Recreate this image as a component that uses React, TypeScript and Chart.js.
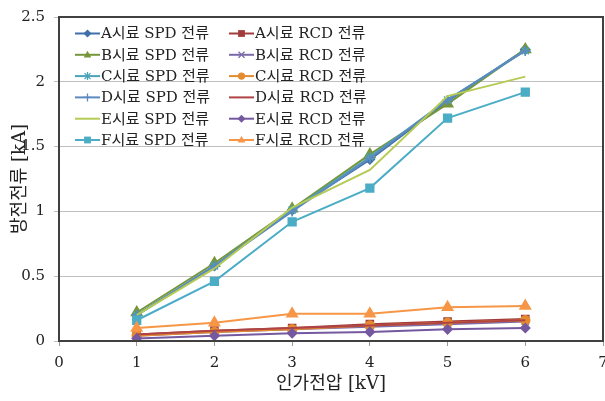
import React, { useEffect, useRef } from "react";
import { Chart, registerables } from "chart.js";

Chart.register(...registerables);

const voltages = [1, 2, 3, 4, 5, 6];
const xTicks = [0, 1, 2, 3, 4, 5, 6, 7];
const yTicks = [0, 0.5, 1, 1.5, 2, 2.5];
const xTitle = "인가전압 [kV]";
const yTitle = "방전전류 [kA]";

const seriesNames = [
  "A시료 SPD 전류", "A시료 RCD 전류",
  "B시료 SPD 전류", "B시료 RCD 전류",
  "C시료 SPD 전류", "C시료 RCD 전류",
  "D시료 SPD 전류", "D시료 RCD 전류",
  "E시료 SPD 전류", "E시료 RCD 전류",
  "F시료 SPD 전류", "F시료 RCD 전류",
];

const aSPD = [0.2, 0.58, 1.01, 1.4, 1.85, 2.25];
const aRCD = [0.05, 0.08, 0.1, 0.13, 0.15, 0.17];
const bSPD = [0.22, 0.6, 1.02, 1.44, 1.83, 2.25];
const bRCD = [0.04, 0.07, 0.09, 0.11, 0.13, 0.15];
const cSPD = [0.2, 0.58, 1.01, 1.42, 1.86, 2.24];
const cRCD = [0.04, 0.07, 0.09, 0.12, 0.14, 0.16];
const dSPD = [0.2, 0.58, 1.0, 1.41, 1.86, 2.24];
const dRCD = [0.05, 0.08, 0.1, 0.12, 0.14, 0.16];
const eSPD = [0.2, 0.56, 1.03, 1.32, 1.89, 2.04];
const eRCD = [0.02, 0.04, 0.06, 0.07, 0.09, 0.1];
const fSPD = [0.16, 0.46, 0.92, 1.18, 1.72, 1.92];
const fRCD = [0.1, 0.14, 0.21, 0.21, 0.26, 0.27];

const seriesValues = [aSPD, aRCD, bSPD, bRCD, cSPD, cRCD, dSPD, dRCD, eSPD, eRCD, fSPD, fRCD];

const colors = [
  "#3F6FA8", "#A23B3B",
  "#77963A", "#7B6BA8",
  "#4BA3B8", "#E48B30",
  "#5B8AC0", "#B04444",
  "#B5CB55", "#7559A0",
  "#4BACC6", "#F79646",
];
const styles: any[] = [
  "rectRot", "rect",
  "triangle", "crossRot",
  "star", "circle",
  "cross", false,
  false, "rectRot",
  "rect", "triangle",
];
const radii = [4.5, 5, 6, 5, 5, 4.5, 5, 0, 0, 4.5, 5.5, 6];

const FONT = "'DejaVu Serif', 'Liberation Serif', 'Noto Sans CJK KR', serif";

function drawMarker(ctx: CanvasRenderingContext2D, style: string, x: number, y: number, r: number) {
  ctx.beginPath();
  switch (style) {
    case "rectRot":
      ctx.moveTo(x, y - r);
      ctx.lineTo(x + r, y);
      ctx.lineTo(x, y + r);
      ctx.lineTo(x - r, y);
      ctx.closePath();
      ctx.fill();
      break;
    case "rect":
      ctx.rect(x - r * 0.85, y - r * 0.85, r * 1.7, r * 1.7);
      ctx.fill();
      break;
    case "triangle":
      ctx.moveTo(x, y - r);
      ctx.lineTo(x + r * 0.95, y + r * 0.65);
      ctx.lineTo(x - r * 0.95, y + r * 0.65);
      ctx.closePath();
      ctx.fill();
      break;
    case "circle":
      ctx.arc(x, y, r * 0.9, 0, Math.PI * 2);
      ctx.fill();
      break;
    case "crossRot":
      ctx.moveTo(x - r * 0.75, y - r * 0.75);
      ctx.lineTo(x + r * 0.75, y + r * 0.75);
      ctx.moveTo(x + r * 0.75, y - r * 0.75);
      ctx.lineTo(x - r * 0.75, y + r * 0.75);
      ctx.stroke();
      break;
    case "cross":
      ctx.moveTo(x, y - r);
      ctx.lineTo(x, y + r);
      ctx.moveTo(x - r, y);
      ctx.lineTo(x + r, y);
      ctx.stroke();
      break;
    case "star":
      ctx.moveTo(x, y - r);
      ctx.lineTo(x, y + r);
      ctx.moveTo(x - r * 0.75, y - r * 0.75);
      ctx.lineTo(x + r * 0.75, y + r * 0.75);
      ctx.moveTo(x + r * 0.75, y - r * 0.75);
      ctx.lineTo(x - r * 0.75, y + r * 0.75);
      ctx.stroke();
      break;
  }
}

export default function App() {
  const ref = useRef<HTMLCanvasElement>(null);
  useEffect(() => {
    document.body.style.margin = "0";
    const datasets = seriesNames.map((name, i) => ({
      label: name,
      data: voltages.map((v, j) => ({ x: v, y: seriesValues[i][j] })),
      borderColor: colors[i],
      backgroundColor: colors[i],
      pointStyle: styles[i],
      pointRadius: radii[i],
      pointBorderWidth: 1.5,
      pointBorderColor: colors[i],
      pointBackgroundColor: colors[i],
      borderWidth: 2,
      showLine: true,
      fill: false,
      order: seriesNames.length - i,
    }));

    const legendPlugin = {
      id: "insideLegend",
      afterDraw(chart: any) {
        const ctx = chart.ctx;
        ctx.save();
        const cols = [75, 229];
        const rowY0 = 33.5;
        const rowH = 21.3;
        chart.data.datasets.forEach((ds: any, i: number) => {
          const col = i % 2;
          const row = Math.floor(i / 2);
          const x = cols[col];
          const y = rowY0 + row * rowH;
          ctx.strokeStyle = ds.borderColor;
          ctx.fillStyle = ds.borderColor;
          ctx.lineWidth = 2;
          ctx.beginPath();
          ctx.moveTo(x, y);
          ctx.lineTo(x + 25, y);
          ctx.stroke();
          if (ds.pointStyle) {
            ctx.lineWidth = 1.3;
            drawMarker(ctx, ds.pointStyle, x + 12.5, y, 4);
          }
          ctx.fillStyle = "#222";
          ctx.font = "15px " + FONT;
          ctx.textBaseline = "middle";
          ctx.textAlign = "left";
          ctx.fillText(ds.label, x + 26, y + 1);
        });
        ctx.restore();
      },
    };

    const borderPlugin = {
      id: "plotBorder",
      afterDatasetsDraw(chart: any) {
        const { ctx, chartArea } = chart;
        ctx.save();
        ctx.strokeStyle = "#404040";
        ctx.lineWidth = 2;
        ctx.strokeRect(chartArea.left, chartArea.top, chartArea.right - chartArea.left, chartArea.bottom - chartArea.top);
        ctx.restore();
      },
    };

    const chart = new Chart(ref.current!, {
      type: "scatter",
      data: { datasets },
      options: {
        animation: false,
        responsive: false,
        maintainAspectRatio: false,
        layout: { autoPadding: false, padding: { top: 17, right: 2, left: 0, bottom: 0 } },
        plugins: {
          legend: { display: false },
          tooltip: { enabled: false },
        },
        scales: {
          x: {
            type: "linear",
            min: 0,
            max: 7,
            afterBuildTicks: (s: any) => {
              s.ticks = xTicks.map((v) => ({ value: v }));
            },
            afterFit: (s: any) => {
              s.height = 60;
              s.paddingLeft = 0;
              s.paddingRight = 0;
            },
            grid: { display: true, drawOnChartArea: false, tickLength: 5, color: "#9a9a9a" },
            border: { display: false },
            ticks: {
              font: { family: FONT, size: 15 },
              color: "#222",
              padding: 8,
              autoSkip: false,
              maxRotation: 0,
              callback: (v: any) => String(v),
            },
            title: {
              display: true,
              text: xTitle,
              font: { family: FONT, size: 18 },
              color: "#222",
              padding: { top: 2, bottom: 6 },
            },
          },
          y: {
            type: "linear",
            min: 0,
            max: 2.5,
            afterBuildTicks: (s: any) => {
              s.ticks = yTicks.map((v) => ({ value: v }));
            },
            afterFit: (s: any) => {
              s.width = 59;
              s.paddingTop = 0;
              s.paddingBottom = 0;
            },
            grid: { color: "#bfbfbf", tickLength: 5, lineWidth: 1 },
            border: { display: false },
            ticks: {
              font: { family: FONT, size: 15 },
              color: "#222",
              padding: 9,
              callback: (v: any) => String(v),
            },
            title: {
              display: true,
              text: yTitle,
              font: { family: FONT, size: 18 },
              color: "#222",
              padding: { top: 10, bottom: 0 },
            },
          },
        },
      },
      plugins: [borderPlugin, legendPlugin],
    });
    return () => chart.destroy();
  }, []);

  return <canvas ref={ref} width={605} height={401} style={{ display: "block" }} />;
}
